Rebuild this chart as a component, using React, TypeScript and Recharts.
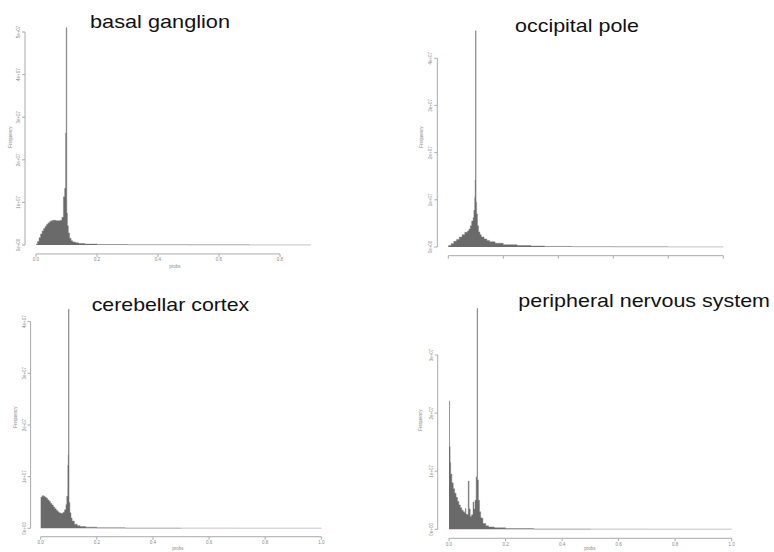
import { AreaChart, Area, XAxis, YAxis, ReferenceLine } from 'recharts';

// Histogram bins: left/right edges on the probs axis, counts in units of 1e7
const basalEdges = [
  0, 0.005, 0.01, 0.015, 0.02, 0.025, 0.03, 0.035, 0.04, 0.045,
  0.05, 0.055, 0.06, 0.065, 0.07, 0.075, 0.08, 0.085, 0.09, 0.094,
  0.097, 0.099, 0.101, 0.103, 0.106, 0.11, 0.115, 0.12, 0.13, 0.14,
  0.16, 0.2, 0.3, 0.5, 0.7, 0.9,
];
const basalCounts = [
  0.02, 0.08, 0.17, 0.26, 0.33, 0.39, 0.44, 0.49, 0.52, 0.55,
  0.57, 0.58, 0.58, 0.57, 0.57, 0.57, 0.58, 0.65, 1.13, 1.33,
  2.63, 5.1, 0.75, 0.45, 0.28, 0.16, 0.1, 0.07, 0.05, 0.035,
  0.022, 0.012, 0.006, 0.003, 0.002,
];

const occipitalEdges = [
  0, 0.01, 0.02, 0.03, 0.04, 0.05, 0.06, 0.07, 0.075, 0.08,
  0.085, 0.09, 0.093, 0.096, 0.0975, 0.099, 0.101, 0.103, 0.106, 0.11,
  0.115, 0.12, 0.13, 0.14, 0.15, 0.17, 0.2, 0.25, 0.3, 0.35,
  0.45, 0.6, 0.8, 1.0,
];
const occipitalCounts = [
  0.03, 0.07, 0.12, 0.16, 0.21, 0.26, 0.31, 0.34, 0.38, 0.45,
  0.55, 0.62, 0.78, 1.05, 1.42, 4.58, 0.95, 0.7, 0.45, 0.32,
  0.26, 0.21, 0.17, 0.14, 0.11, 0.08, 0.05, 0.03, 0.02, 0.012,
  0.006, 0.003, 0.002,
];

const cerebellarEdges = [
  0, 0.005, 0.01, 0.015, 0.02, 0.025, 0.03, 0.035, 0.04, 0.045,
  0.05, 0.055, 0.06, 0.065, 0.07, 0.075, 0.08, 0.085, 0.09, 0.093,
  0.0965, 0.098, 0.099, 0.101, 0.104, 0.108, 0.112, 0.12, 0.13, 0.14,
  0.16, 0.2, 0.3, 0.5, 0.7, 1.0,
];
const cerebellarCounts = [
  0.6, 0.63, 0.62, 0.6, 0.58, 0.55, 0.52, 0.48, 0.45, 0.41,
  0.38, 0.35, 0.32, 0.3, 0.29, 0.29, 0.31, 0.36, 0.46, 0.62,
  1.22, 1.42, 4.24, 0.5, 0.3, 0.2, 0.14, 0.08, 0.05, 0.035,
  0.022, 0.012, 0.006, 0.003, 0.002,
];

const peripheralEdges = [
  0, 0.002, 0.004, 0.006, 0.01, 0.015, 0.02, 0.025, 0.03, 0.035,
  0.04, 0.045, 0.05, 0.055, 0.058, 0.06, 0.065, 0.068, 0.071, 0.075,
  0.08, 0.085, 0.088, 0.092, 0.096, 0.099, 0.101, 0.104, 0.108, 0.112,
  0.116, 0.12, 0.13, 0.14, 0.16, 0.2, 0.3, 0.5, 0.7, 1.0,
];
const peripheralCounts = [
  2.21, 1.42, 1.15, 0.95, 0.8, 0.7, 0.62, 0.55, 0.48, 0.42,
  0.37, 0.33, 0.3, 0.28, 0.36, 0.26, 0.25, 0.83, 0.35, 0.22,
  0.25, 0.47, 0.35, 0.5, 0.9, 3.8, 0.85, 0.5, 0.3, 0.2,
  0.19, 0.1, 0.06, 0.04, 0.025, 0.012, 0.006, 0.003, 0.002,
];

const xTickValues = [0, 0.2, 0.4, 0.6, 0.8, 1.0];
const xTickLabels = ['0.0', '0.2', '0.4', '0.6', '0.8', '1.0'];
const yTickValues = [0, 1, 2, 3, 4, 5];
const yTickLabels = ['0e+00', '1e+07', '2e+07', '3e+07', '4e+07', '5e+07'];

const W = 774;
const H = 552;
const AXIS = 14; // room reserved for the tick marks and labels
const FONT = "'Liberation Sans', Arial, Helvetica, sans-serif";

type Panel = {
  title: string;
  titleX: number; titleY: number; titleW: number;
  edges: number[]; counts: number[];
  nX: number; nY: number; xLabels: boolean;
  x0: number; xs: number; xDomain: [number, number];
  y0: number; ys: number; yDomain: [number, number];
  freqX: number; freqY: number;
  probs?: [number, number];
};

const panels: Panel[] = [
  {
    title: 'basal ganglion', titleX: 90, titleY: 28.3, titleW: 140,
    edges: basalEdges, counts: basalCounts, nX: 5, nY: 6, xLabels: true,
    x0: 36, xs: 305, xDomain: [-0.036, 0.94],
    y0: 245, ys: 42.6, yDomain: [-0.21, 5.31],
    freqX: 12, freqY: 137, probs: [175, 268],
  },
  {
    title: 'occipital pole', titleX: 515, titleY: 31.7, titleW: 124,
    edges: occipitalEdges, counts: occipitalCounts, nX: 6, nY: 5, xLabels: false,
    x0: 448.3, xs: 275, xDomain: [-0.04, 1.04],
    y0: 247, ys: 47.2, yDomain: [-0.184, 4.77],
    freqX: 423, freqY: 137,
  },
  {
    title: 'cerebellar cortex', titleX: 91.7, titleY: 310.7, titleW: 157.6,
    edges: cerebellarEdges, counts: cerebellarCounts, nX: 6, nY: 5, xLabels: true,
    x0: 40.7, xs: 280.6, xDomain: [-0.036, 1.036],
    y0: 528.3, ys: 51.67, yDomain: [-0.163, 4.41],
    freqX: 17, freqY: 417, probs: [178, 550],
  },
  {
    title: 'peripheral nervous system', titleX: 518.3, titleY: 306.5, titleW: 251.7,
    edges: peripheralEdges, counts: peripheralCounts, nX: 6, nY: 4, xLabels: true,
    x0: 449, xs: 282.7, xDomain: [-0.04, 1.04],
    y0: 529.3, ys: 58.1, yDomain: [-0.155, 3.95],
    freqX: 422, freqY: 420, probs: [590, 550],
  },
];

function YTick({ x, y, payload }: any) {
  const i = yTickValues.indexOf(payload.value);
  return (
    <text x={x} y={y} transform={`rotate(-90 ${x} ${y})`} textAnchor="middle"
      fontSize={4.5} fontFamily={FONT} fill="#888">
      {yTickLabels[i]}
    </text>
  );
}

function makeXTick(show: boolean) {
  return ({ x, y, payload }: any) => {
    if (!show) return <g />;
    const i = xTickValues.indexOf(payload.value);
    return (
      <text x={x} y={y} dy="0.71em" textAnchor="middle" fontSize={4.5} fontFamily={FONT} fill="#888">
        {xTickLabels[i]}
      </text>
    );
  };
}

function Histogram({ p }: { p: Panel }) {
  const data = p.edges.map((x, i) => ({ x, count: i < p.counts.length ? p.counts[i] : 0 }));
  const left = p.x0 + p.xDomain[0] * p.xs;
  const right = p.x0 + p.xDomain[1] * p.xs;
  const top = p.y0 - p.yDomain[1] * p.ys;
  const bottom = p.y0 - p.yDomain[0] * p.ys;
  const xTicks = xTickValues.slice(0, p.nX);
  const yTicks = yTickValues.slice(0, p.nY);

  return (
    <div style={{ position: 'absolute', left: 0, top: 0 }}>
      <AreaChart width={W} height={H} data={data}
        margin={{ left: left - AXIS, top, right: W - right, bottom: H - bottom - AXIS }}>
        <XAxis type="number" dataKey="x" domain={p.xDomain} ticks={xTicks} interval={0}
          allowDataOverflow axisLine={false} tickLine={{ stroke: '#aaa' }}
          tickSize={3} tickMargin={1} height={AXIS} tick={makeXTick(p.xLabels)} />
        <YAxis type="number" domain={p.yDomain} ticks={yTicks} interval={0}
          allowDataOverflow axisLine={false} tickLine={{ stroke: '#aaa' }}
          tickSize={3} tickMargin={2} width={AXIS} tick={<YTick />} />
        <ReferenceLine ifOverflow="visible" stroke="#aaa"
          segment={[{ x: p.xDomain[0], y: 0 }, { x: p.xDomain[0], y: yTicks[yTicks.length - 1] }]} />
        <ReferenceLine ifOverflow="visible" stroke="#aaa"
          segment={[{ x: 0, y: p.yDomain[0] }, { x: xTicks[xTicks.length - 1], y: p.yDomain[0] }]} />
        <Area type="stepAfter" dataKey="count" baseValue={0}
          fill="#6a6a6a" fillOpacity={1} stroke="#7a7a7a" strokeWidth={0.45}
          dot={false} activeDot={false} isAnimationActive={false} />
      </AreaChart>
    </div>
  );
}

export default function App() {
  return (
    <div style={{ position: 'absolute', left: 0, top: 0, width: W, height: H, background: '#fff', overflow: 'hidden' }}>
      {panels.map(p => <Histogram key={p.title} p={p} />)}
      <svg width={W} height={H} style={{ position: 'absolute', left: 0, top: 0 }}>
        {panels.map(p => (
          <g key={p.title}>
            <text x={p.titleX} y={p.titleY} textLength={p.titleW} lengthAdjust="spacingAndGlyphs"
              fontSize={18.5} fontFamily={FONT} fill="#111">
              {p.title}
            </text>
            <text x={p.freqX} y={p.freqY} transform={`rotate(-90 ${p.freqX} ${p.freqY})`}
              textAnchor="middle" fontSize={4.5} fontFamily={FONT} fill="#888">
              Frequency
            </text>
            {p.probs && (
              <text x={p.probs[0]} y={p.probs[1]} textAnchor="middle" fontSize={4.5} fontFamily={FONT} fill="#888">
                probs
              </text>
            )}
          </g>
        ))}
      </svg>
    </div>
  );
}
